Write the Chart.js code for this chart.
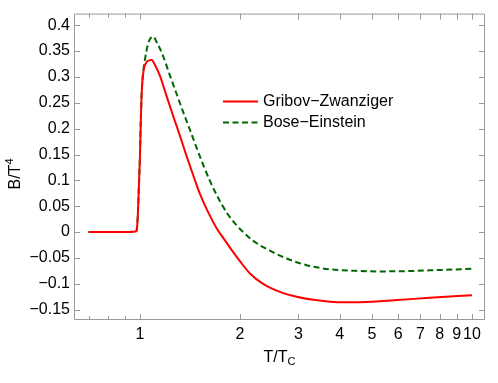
<!DOCTYPE html>
<html>
<head>
<meta charset="utf-8">
<script src="https://cdn.jsdelivr.net/npm/chart.js@4.4.1/dist/chart.umd.min.js"></script>
<style>
html,body{margin:0;padding:0;background:#fff;}
#wrap{width:498px;height:383px;position:relative;}
</style>
</head>
<body>
<div id="wrap"><canvas id="c"></canvas></div>
<script>
// ---- data ----
const T_GZ = [0.7,0.8,0.9,0.95,0.97,0.978,0.985,0.993,1.0,1.006,1.012,1.02,1.03,1.047,1.065,1.0845,1.11,1.149,1.203,1.26,1.32,1.382,1.447,1.516,1.606,1.702,1.803,1.867,2.0,2.145,2.351,2.641,2.965,3.327,3.735,4.2,4.8,5.95,7.47,10];
const B_GZ = [0,0,0,0.0005,0.001,0.004,0.03,0.09,0.145,0.215,0.268,0.300,0.318,0.329,0.332,0.333,0.323,0.302,0.263,0.224,0.186,0.147,0.110,0.074,0.038,0.0075,-0.016,-0.030,-0.056,-0.080,-0.100,-0.1155,-0.125,-0.131,-0.1345,-0.1355,-0.135,-0.1315,-0.127,-0.122];
const T_BE = [0.7,0.8,0.9,0.95,0.97,0.978,0.985,0.993,1.0,1.006,1.012,1.02,1.035,1.059,1.08,1.097,1.12,1.175,1.231,1.29,1.35,1.414,1.482,1.551,1.625,1.702,1.824,1.956,2.047,2.194,2.464,2.766,3.178,3.735,4.495,5.28,6.3,7.47,10];
const B_BE = [0,0,0,0.0005,0.001,0.004,0.03,0.09,0.145,0.215,0.268,0.302,0.333,0.365,0.376,0.378,0.369,0.340,0.303,0.267,0.232,0.198,0.163,0.130,0.099,0.072,0.038,0.013,0.000,-0.017,-0.036,-0.051,-0.064,-0.072,-0.075,-0.076,-0.0755,-0.074,-0.071];
const SERIES_NAMES = ['Gribov\u2212Zwanziger','Bose\u2212Einstein'];
const X_TICKS = [1,2,3,4,5,6,7,8,9,10];
const X_TICK_LABELS = ['1','2','3','4','5','6','7','8','9','10'];
const X_MINOR = [0.7,0.8,0.9];
const Y_TICKS = [-0.15,-0.1,-0.05,0,0.05,0.1,0.15,0.2,0.25,0.3,0.35,0.4];
const Y_TICK_LABELS = ['\u22120.15','\u22120.1','\u22120.05','0','0.05','0.1','0.15','0.2','0.25','0.3','0.35','0.4'];

const FONT = '"Liberation Sans", Arial, Helvetica, sans-serif';
const FRAME = '#9a9a9a';
const RED = '#ff0000';
const GREEN = '#006600';

const framePlugin = {
  id: 'frame',
  beforeDatasetsDraw(chart) {
    const ctx = chart.ctx, a = chart.chartArea;
    const xs = chart.scales.x, ys = chart.scales.y;
    ctx.save();
    ctx.strokeStyle = FRAME;
    ctx.lineWidth = 1;
    ctx.beginPath();
    ctx.rect(a.left + 0.5, a.top + 0.5, a.right - a.left - 1, a.bottom - a.top - 1);
    ctx.stroke();
    ctx.beginPath();
    const tick = (v, len) => {
      const px = Math.round(xs.getPixelForValue(v)) + 0.5;
      ctx.moveTo(px, a.bottom); ctx.lineTo(px, a.bottom - len);
      ctx.moveTo(px, a.top); ctx.lineTo(px, a.top + len);
    };
    X_TICKS.forEach(v => tick(v, 6));
    X_MINOR.forEach(v => tick(v, 4));
    Y_TICKS.forEach(v => {
      const py = Math.round(ys.getPixelForValue(v)) + 0.5;
      ctx.moveTo(a.left, py); ctx.lineTo(a.left + 6, py);
      ctx.moveTo(a.right, py); ctx.lineTo(a.right - 6, py);
    });
    ctx.stroke();
    ctx.restore();
  },
  afterDraw(chart) {
    const ctx = chart.ctx, a = chart.chartArea;
    ctx.save();
    ctx.fillStyle = '#000';
    // x axis title T/T_C
    const cx = (a.left + a.right) / 2;
    const main = 'T/T';
    ctx.font = '16px ' + FONT;
    const wMain = ctx.measureText(main).width;
    ctx.font = '11px ' + FONT;
    const wSub = ctx.measureText('C').width;
    const x0 = cx - (wMain + wSub) / 2;
    ctx.textBaseline = 'alphabetic';
    ctx.textAlign = 'left';
    ctx.font = '16px ' + FONT;
    ctx.fillText(main, x0, 362);
    ctx.font = '11px ' + FONT;
    ctx.fillText('C', x0 + wMain, 365);
    // y axis title B/T^4
    ctx.save();
    ctx.translate(20, 174);
    ctx.rotate(-Math.PI / 2);
    ctx.font = '16px ' + FONT;
    const yMain = 'B/T';
    const wy = ctx.measureText(yMain).width;
    ctx.font = '11px ' + FONT;
    const w4 = ctx.measureText('4').width;
    const y0 = -(wy + w4) / 2;
    ctx.font = '16px ' + FONT;
    ctx.fillText(yMain, y0, 0);
    ctx.font = '11px ' + FONT;
    ctx.fillText('4', y0 + wy, -7);
    ctx.restore();
    // legend
    const items = chart.data.datasets;
    const ly = [101.5, 122.5];
    items.forEach((ds, i) => {
      ctx.save();
      ctx.strokeStyle = ds.borderColor;
      ctx.lineWidth = ds.borderWidth;
      ctx.setLineDash(ds.borderDash || []);
      ctx.beginPath();
      ctx.moveTo(223, ly[i]); ctx.lineTo(258, ly[i]);
      ctx.stroke();
      ctx.restore();
      ctx.font = '16px ' + FONT;
      ctx.textBaseline = 'middle';
      ctx.textAlign = 'left';
      ctx.fillStyle = '#000';
      ctx.fillText(ds.label, 263, ly[i]);
    });
    ctx.restore();
  }
};

const toPts = (xs, ys) => xs.map((x, i) => ({x: x, y: ys[i]}));

new Chart(document.getElementById('c'), {
  type: 'line',
  data: {
    datasets: [
      {label: SERIES_NAMES[0], data: toPts(T_GZ, B_GZ), borderColor: RED, borderWidth: 2,
       pointRadius: 0, cubicInterpolationMode: 'monotone', fill: false},
      {label: SERIES_NAMES[1], data: toPts(T_BE, B_BE), borderColor: GREEN, borderWidth: 2,
       borderDash: [6, 3.5], pointRadius: 0, cubicInterpolationMode: 'monotone', fill: false}
    ]
  },
  options: {
    responsive: true,
    maintainAspectRatio: false,
    animation: false,
    layout: {padding: {top: 12, right: 13, left: 0, bottom: 0}},
    plugins: {legend: {display: false}, tooltip: {enabled: false}},
    scales: {
      x: {
        type: 'logarithmic',
        bounds: 'data',
        min: 0.633, max: 10.95,
        grid: {display: false, drawTicks: false},
        border: {display: false},
        afterBuildTicks: s => { s.ticks = X_TICKS.map(v => ({value: v})); },
        afterFit: s => { s.height = 63; },
        ticks: {
          autoSkip: false, maxRotation: 0, minRotation: 0, padding: 5,
          color: '#000', font: {family: FONT, size: 16},
          callback: (v, i) => X_TICK_LABELS[i]
        }
      },
      y: {
        type: 'linear',
        bounds: 'data',
        min: -0.17, max: 0.4225,
        grid: {display: false, drawTicks: false},
        border: {display: false},
        afterBuildTicks: s => { s.ticks = Y_TICKS.map(v => ({value: v})); },
        afterFit: s => { s.width = 74; },
        ticks: {
          autoSkip: false, padding: 4,
          color: '#000', font: {family: FONT, size: 16},
          callback: (v, i) => Y_TICK_LABELS[i]
        }
      }
    }
  },
  plugins: [framePlugin]
});
</script>
</body>
</html>
